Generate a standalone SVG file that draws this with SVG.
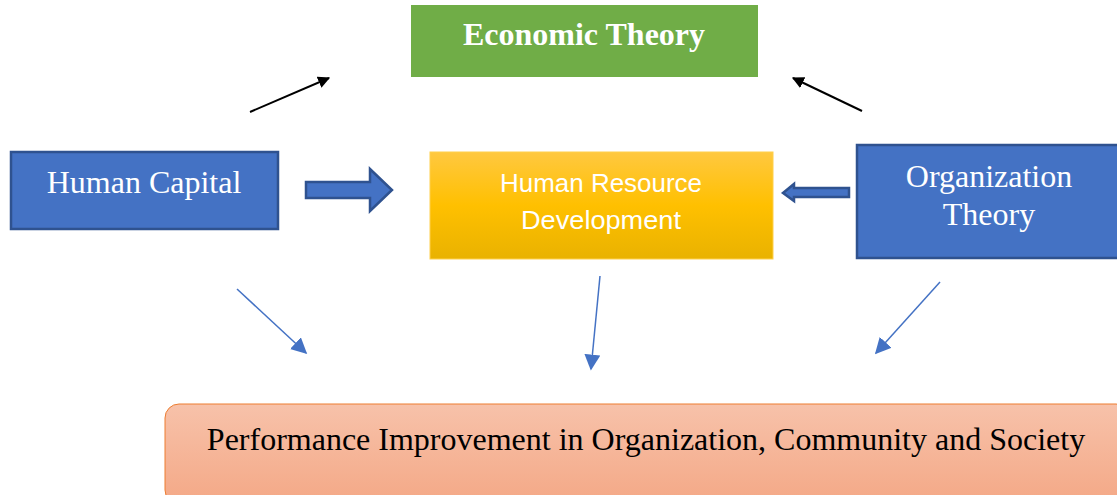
<svg xmlns="http://www.w3.org/2000/svg" width="1117" height="495" viewBox="0 0 1117 495">
<style>
.serif{font-family:"Liberation Serif","Times New Roman",serif;font-size:32px;text-anchor:middle}
.white{fill:#ffffff}
.blue{fill:#4472C4;stroke:#2F528F;stroke-width:2.5}
.thin{stroke:#4472C4;stroke-width:1.5;fill:none}
.black{stroke:#000000;stroke-width:2;fill:none}
.sans{font-family:"Liberation Sans",Arial,sans-serif;font-size:26px;fill:#ffffff;text-anchor:middle}
</style>
<defs>
<linearGradient id="gy" x1="0" y1="0" x2="0" y2="1">
<stop offset="0" stop-color="#FFC840"/>
<stop offset="0.5" stop-color="#FFC000"/>
<stop offset="1" stop-color="#E9B200"/>
</linearGradient>
<linearGradient id="go" x1="0" y1="0" x2="0" y2="1">
<stop offset="0" stop-color="#F7C2AA"/>
<stop offset="1" stop-color="#F4A886"/>
</linearGradient>
<marker id="mb" viewBox="0 0 10 10" refX="9" refY="5" markerWidth="12" markerHeight="12" markerUnits="userSpaceOnUse" orient="auto">
<path d="M0,0 L10,5 L0,10 z" fill="#000"/>
</marker>
<marker id="mbl" viewBox="0 0 10 10" refX="9" refY="5" markerWidth="16" markerHeight="16" markerUnits="userSpaceOnUse" orient="auto">
<path d="M0,0 L10,5 L0,10 z" fill="#4472C4"/>
</marker>
</defs>

<g id="economic-theory">
<rect x="411" y="5" width="347" height="72" fill="#70AD47"/>
<text class="serif white" x="584" y="45" font-weight="bold">Economic Theory</text>
</g>

<g id="human-capital">
<rect class="blue" x="11" y="152" width="267" height="77"/>
<text class="serif white" x="144" y="193">Human Capital</text>
</g>

<g id="hrd">
<rect x="430" y="152" width="343" height="107" fill="url(#gy)" stroke="#FFD04A" stroke-width="1"/>
<text class="sans" x="601" y="192" textLength="202" lengthAdjust="spacingAndGlyphs">Human Resource</text>
<text class="sans" x="601" y="229" textLength="160" lengthAdjust="spacingAndGlyphs">Development</text>
</g>

<g id="organization-theory">
<rect class="blue" x="857" y="145" width="266" height="113"/>
<text class="serif white" x="989" y="187">Organization</text>
<text class="serif white" x="989" y="225">Theory</text>
</g>

<g id="performance">
<rect x="165" y="404" width="965" height="100" rx="14" ry="14" fill="url(#go)" stroke="#ED7D31" stroke-width="1"/>
<text class="serif" x="646" y="450" fill="#000">Performance Improvement in Organization, Community and Society</text>
</g>

<g id="connectors">
<path class="blue" stroke-width="2" d="M306,182 L370,182 L370,169 L392,190 L370,211 L370,198 L306,198 Z"/>
<path class="blue" stroke-width="2" d="M849,188 L794,188 L794,184 L783,193 L794,201 L794,197 L849,197 Z"/>
<line class="black" x1="250" y1="112" x2="329" y2="78" marker-end="url(#mb)"/>
<line class="black" x1="862" y1="111" x2="793" y2="78" marker-end="url(#mb)"/>
<line class="thin" x1="237" y1="289" x2="306" y2="353" marker-end="url(#mbl)"/>
<line class="thin" x1="600" y1="276" x2="591" y2="369" marker-end="url(#mbl)"/>
<line class="thin" x1="940" y1="282" x2="876" y2="353" marker-end="url(#mbl)"/>
</g>
</svg>
